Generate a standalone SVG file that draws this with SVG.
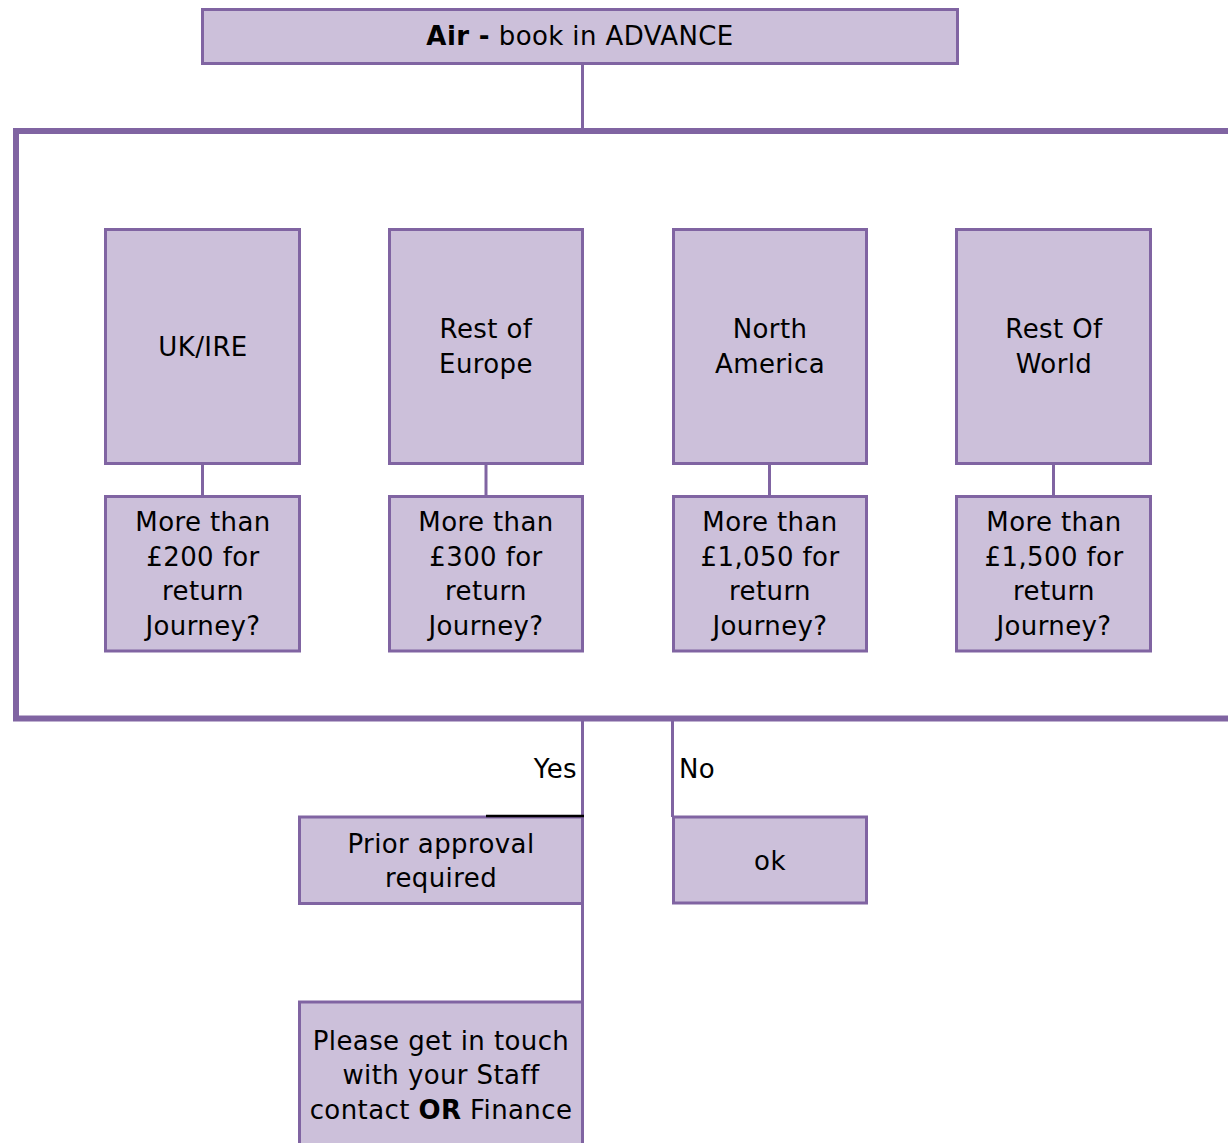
<svg xmlns="http://www.w3.org/2000/svg" width="1228" height="1143" viewBox="0 0 1228 1143">
<style>
.box{fill:#ccc0da;stroke:#8064a2;stroke-width:3}
.t{font-family:"DejaVu Sans","Verdana",sans-serif;font-size:26px;letter-spacing:0.4px;fill:#000;text-anchor:middle}
.c{fill:none;stroke:#8064a2;stroke-width:3}
</style>
<rect width="1228" height="1143" fill="#fff"/>
<g id="connectors">
<line class="c" x1="582.5" y1="64" x2="582.5" y2="131"/>
<line class="c" x1="202.5" y1="464" x2="202.5" y2="496"/>
<line class="c" x1="486" y1="464" x2="486" y2="496"/>
<line class="c" x1="769.5" y1="464" x2="769.5" y2="496"/>
<line class="c" x1="1053.5" y1="464" x2="1053.5" y2="496"/>
<line class="c" x1="582.5" y1="718" x2="582.5" y2="1002"/>
<line class="c" x1="672.5" y1="718" x2="672.5" y2="817"/>
</g>
<g id="group-frame">
<rect x="16" y="131" width="1230" height="587.5" fill="none" stroke="#8064a2" stroke-width="6"/>
</g>
<g id="top">
<rect class="box" x="202.5" y="9.5" width="755" height="54"/>
<text class="t" x="580" y="45"><tspan font-weight="bold">Air -</tspan> book in ADVANCE</text>
</g>
<g id="uk">
<rect class="box" x="105.5" y="229.5" width="194" height="234"/>
<text class="t" x="203" y="356">UK/IRE</text>
</g>
<g id="europe">
<rect class="box" x="389.5" y="229.5" width="193" height="234"/>
<text class="t" x="486" y="338">Rest of</text>
<text class="t" x="486" y="373">Europe</text>
</g>
<g id="namerica">
<rect class="box" x="673.5" y="229.5" width="193" height="234"/>
<text class="t" x="770" y="338">North</text>
<text class="t" x="770" y="373">America</text>
</g>
<g id="world">
<rect class="box" x="956.5" y="229.5" width="194" height="234"/>
<text class="t" x="1054" y="338">Rest Of</text>
<text class="t" x="1054" y="373">World</text>
</g>
<g id="q-uk">
<rect class="box" x="105.5" y="496.5" width="194" height="154.5"/>
<text class="t" x="203" y="531">More than</text>
<text class="t" x="203" y="566">£200 for</text>
<text class="t" x="203" y="600">return</text>
<text class="t" x="203" y="635">Journey?</text>
</g>
<g id="q-europe">
<rect class="box" x="389.5" y="496.5" width="193" height="154.5"/>
<text class="t" x="486" y="531">More than</text>
<text class="t" x="486" y="566">£300 for</text>
<text class="t" x="486" y="600">return</text>
<text class="t" x="486" y="635">Journey?</text>
</g>
<g id="q-namerica">
<rect class="box" x="673.5" y="496.5" width="193" height="154.5"/>
<text class="t" x="770" y="531">More than</text>
<text class="t" x="770" y="566">£1,050 for</text>
<text class="t" x="770" y="600">return</text>
<text class="t" x="770" y="635">Journey?</text>
</g>
<g id="q-world">
<rect class="box" x="956.5" y="496.5" width="194" height="154.5"/>
<text class="t" x="1054" y="531">More than</text>
<text class="t" x="1054" y="566">£1,500 for</text>
<text class="t" x="1054" y="600">return</text>
<text class="t" x="1054" y="635">Journey?</text>
</g>
<g id="labels">
<text class="t" x="577" y="778" style="text-anchor:end">Yes</text>
<text class="t" x="679" y="778" style="text-anchor:start">No</text>
</g>
<g id="approval">
<rect class="box" x="299.5" y="817" width="283" height="86.5"/>
<line x1="486" y1="816" x2="584" y2="816" stroke="#000" stroke-width="2.5"/>
<text class="t" x="441" y="853">Prior approval</text>
<text class="t" x="441" y="887">required</text>
</g>
<g id="ok">
<rect class="box" x="673.5" y="817" width="193" height="86"/>
<text class="t" x="770" y="870">ok</text>
</g>
<g id="contact">
<rect class="box" x="299.5" y="1002" width="283" height="160"/>
<text class="t" x="441" y="1050">Please get in touch</text>
<text class="t" x="441" y="1084">with your Staff</text>
<text class="t" x="441" y="1119">contact <tspan font-weight="bold">OR</tspan> Finance</text>
</g>
</svg>
